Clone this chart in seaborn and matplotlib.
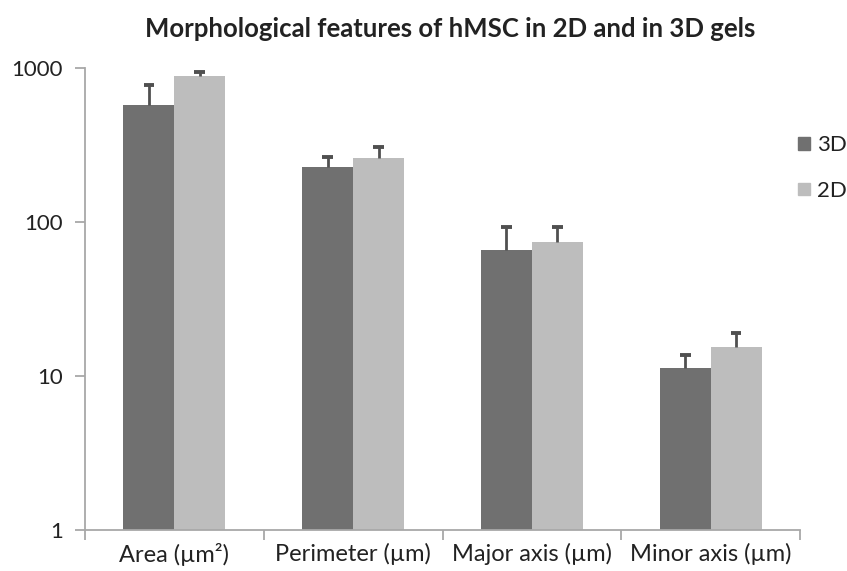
import numpy as np
import pandas as pd
import matplotlib
matplotlib.use("Agg")
import matplotlib.pyplot as plt
import seaborn as sns

# Morphological measurements (means and upper standard deviations)
categories = ["Area (µm²)", "Perimeter (µm)", "Major axis (µm)", "Minor axis (µm)"]
conditions = ["3D", "2D"]
mean_3d = [575, 228, 66, 11.3]
mean_2d = [890, 260, 74, 15.4]
sd_3d = [200, 37, 27, 2.4]
sd_2d = [50, 46, 19, 3.6]
y_ticks = [1, 10, 100, 1000]
y_tick_labels = ["1", "10", "100", "1000"]

colors = {"3D": "#707070", "2D": "#bdbdbd"}

df = pd.DataFrame({
    "feature": categories * 2,
    "condition": ["3D"] * len(categories) + ["2D"] * len(categories),
    "value": mean_3d + mean_2d,
})
errors = {"3D": sd_3d, "2D": sd_2d}

sns.set_style("white")
plt.rcParams["font.family"] = ["Lato", "DejaVu Sans"]
plt.rcParams["text.color"] = "#222222"

fig = plt.figure(figsize=(8.47, 5.71), dpi=100)
ax = fig.add_axes([85 / 847, 1 - 530 / 571, 715 / 847, (530 - 68) / 571])

sns.barplot(data=df, x="feature", y="value", hue="condition",
            hue_order=conditions, order=categories, palette=colors,
            width=0.57, gap=0, errorbar=None, saturation=1,
            edgecolor="none", ax=ax, legend=True)

ax.set_yscale("log")
ax.set_ylim(1, 1000)
ax.set_xlim(-0.5, len(categories) - 0.5)

# Upper-only error bars: a stem from the bar top and a single cap
cap_half = 0.03
for cond, container in zip(conditions, ax.containers):
    xs = np.array([p.get_x() + p.get_width() / 2 for p in container.patches])
    hs = np.array([p.get_height() for p in container.patches])
    tops = hs + np.array(errors[cond])
    ax.vlines(xs, hs, tops, colors="#505050", linewidth=2, zorder=3)
    ax.hlines(tops, xs - cap_half, xs + cap_half, colors="#505050",
              linewidth=2.8, zorder=3)

# Axes styling
for side in ["top", "right"]:
    ax.spines[side].set_visible(False)
for side in ["left", "bottom"]:
    ax.spines[side].set_color("#a8a8a8")
    ax.spines[side].set_linewidth(1.3)

ax.yaxis.set_major_locator(matplotlib.ticker.FixedLocator(y_ticks))
ax.yaxis.set_minor_locator(matplotlib.ticker.NullLocator())
ax.set_yticklabels(y_tick_labels)
ax.tick_params(axis="y", which="major", left=True, length=7, width=1.3,
               color="#a8a8a8", labelsize=16, pad=9, labelcolor="#222222")

# Category separators on the x-axis
ax.set_xticks(np.arange(len(categories)))
ax.set_xticklabels(categories)
ax.tick_params(axis="x", which="major", bottom=False, labelsize=17, pad=6,
               labelcolor="#222222")
ax.set_xticks(np.arange(len(categories) + 1) - 0.5, minor=True)
ax.tick_params(axis="x", which="minor", bottom=True, length=7, width=1.3,
               color="#a8a8a8")

ax.set_xlabel("")
ax.set_ylabel("")

ax.get_legend().remove()
handles = [plt.Rectangle((0, 0), 1, 1, color=colors[c]) for c in conditions]
fig.legend(handles, conditions, loc="upper left",
           bbox_to_anchor=(794 / 847, 1 - 131 / 571), frameon=False,
           fontsize=16, handlelength=0.5, handleheight=0.5,
           handletextpad=0.35, labelspacing=1.15, borderaxespad=0,
           borderpad=0.2)

fig.suptitle("Morphological features of hMSC in 2D and in 3D gels",
             x=450 / 847, y=1 - 17 / 571, fontsize=18.5, fontweight="bold")

fig.savefig("out.png", dpi=100)
